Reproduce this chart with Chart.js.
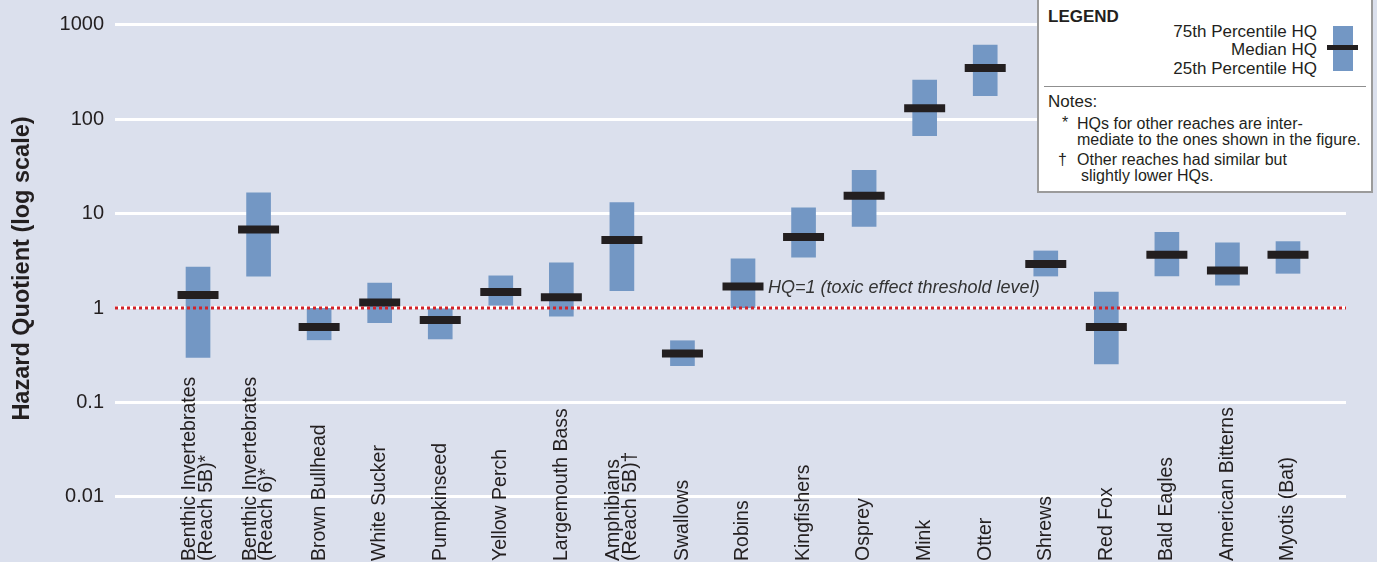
<!DOCTYPE html>
<html>
<head>
<meta charset="utf-8">
<script src="https://cdn.jsdelivr.net/npm/chart.js@4"></script>
<style>
  html,body{margin:0;padding:0;background:#dbe0ed;}
  #wrap{position:relative;width:1377px;height:562px;overflow:hidden;background:#dbe0ed;
        font-family:"Liberation Sans",Arial,sans-serif;color:#231f20;}
  #wrap canvas{position:absolute;left:0;top:0;}
  .abs{position:absolute;line-height:1;white-space:nowrap;}
  .lg{font-size:17px;}
  .nt{font-size:16px;}
</style>
</head>
<body>
<div id="wrap">
  <canvas id="chart" width="1377" height="562"></canvas>
  <div class="abs" style="left:1037px;top:-2px;width:336px;height:195px;background:#fff;border:2px solid #9b9b9b;box-sizing:border-box;"></div>
  <div class="abs lg" style="left:1048px;top:8px;font-weight:bold;">LEGEND</div>
  <div class="abs lg" style="right:60px;top:23px;">75th Percentile HQ</div>
  <div class="abs lg" style="right:60px;top:41px;">Median HQ</div>
  <div class="abs lg" style="right:60px;top:60px;">25th Percentile HQ</div>
  <div class="abs" style="left:1333px;top:26px;width:20px;height:45px;background:#7397c4;"></div>
  <div class="abs" style="left:1327px;top:45px;width:31px;height:5px;background:#231f20;"></div>
  <div class="abs" style="left:1044px;top:86px;width:322px;height:1px;background:#8f8f8f;"></div>
  <div class="abs lg" style="left:1048px;top:93px;">Notes:</div>
  <div class="abs nt" style="left:1062px;top:115px;">*</div>
  <div class="abs nt" style="left:1077px;top:116px;">HQs for other reaches are inter-</div>
  <div class="abs nt" style="left:1077px;top:132px;">mediate to the ones shown in the figure.</div>
  <div class="abs nt" style="left:1058px;top:152px;">†</div>
  <div class="abs nt" style="left:1077px;top:152px;">Other reaches had similar but</div>
  <div class="abs nt" style="left:1081px;top:168px;">slightly lower HQs.</div>
</div>
<script>
// categories (multi-line labels as arrays)
const CATEGORIES = [
  ['Benthic Invertebrates','(Reach 5B)*'],
  ['Benthic Invertebrates','(Reach 6)*'],
  ['Brown Bullhead'],
  ['White Sucker'],
  ['Pumpkinseed'],
  ['Yellow Perch'],
  ['Largemouth Bass'],
  ['Amphibians','(Reach 5B)†'],
  ['Swallows'],
  ['Robins'],
  ['Kingfishers'],
  ['Osprey'],
  ['Mink'],
  ['Otter'],
  ['Shrews'],
  ['Red Fox'],
  ['Bald Eagles'],
  ['American Bitterns'],
  ['Myotis (Bat)']
];
// hazard quotients
const P25    = [0.30, 2.17, 0.46, 0.70, 0.47, 1.07, 0.82, 1.53, 0.245, 1.0, 3.46, 7.3, 67, 177, 2.18, 0.255, 2.18, 1.74, 2.33];
const MEDIAN = [1.37, 6.8, 0.63, 1.14, 0.745, 1.48, 1.30, 5.25, 0.33, 1.69, 5.65, 15.5, 131, 348, 2.93, 0.63, 3.67, 2.49, 3.67];
const P75    = [2.71, 16.6, 0.99, 1.84, 0.98, 2.19, 3.01, 13.1, 0.45, 3.32, 11.5, 28.7, 260, 611, 4.02, 1.47, 6.35, 4.89, 5.05];
const Y_TICKS = [0.01, 0.1, 1, 10, 100, 1000];
const THRESHOLD = 1;
const THRESHOLD_LABEL = 'HQ=1 (toxic effect threshold level)';

const FONT = '"Liberation Sans", Arial, sans-serif';
const INK = '#231f20';

// x labels drawn rotated, reading upward from the bottom edge
const catLabels = {
  id:'catLabels',
  afterDraw(chart){
    const ctx=chart.ctx, xs=chart.scales.x;
    ctx.save();
    ctx.font='19.5px '+FONT;
    ctx.fillStyle=INK;
    ctx.textAlign='left';
    ctx.textBaseline='middle';
    CATEGORIES.forEach((lines,i)=>{
      ctx.save();
      ctx.translate(xs.getPixelForValue(i), chart.height);
      ctx.rotate(-Math.PI/2);
      lines.forEach((t,k)=>ctx.fillText(t,1,(k-(lines.length-1)/2)*16.5));
      ctx.restore();
    });
    ctx.restore();
  }
};

// dotted HQ=1 line + note
const thresholdLine = {
  id:'thresholdLine',
  afterDatasetsDraw(chart){
    const ctx=chart.ctx, a=chart.chartArea, ys=chart.scales.y, xs=chart.scales.x;
    const y1=ys.getPixelForValue(THRESHOLD);
    ctx.save();
    ctx.strokeStyle='#d2232a';
    ctx.lineWidth=3;
    ctx.setLineDash([3,3]);
    ctx.beginPath();
    ctx.moveTo(a.left,y1);
    ctx.lineTo(a.right,y1);
    ctx.stroke();
    ctx.setLineDash([]);
    ctx.font='italic 18px '+FONT;
    ctx.fillStyle='#333';
    ctx.textAlign='left';
    ctx.textBaseline='alphabetic';
    ctx.fillText(THRESHOLD_LABEL, xs.getPixelForValue(9)+25, y1-15);
    ctx.restore();
  }
};

const ctx=document.getElementById('chart').getContext('2d');
new Chart(ctx,{
  type:'bar',
  data:{
    datasets:[
      {
        type:'scatter',
        label:'Median HQ',
        data:MEDIAN.map((v,i)=>({x:i,y:v})),
        pointStyle:'line',
        pointRadius:20.5,
        pointBorderWidth:8,
        borderColor:INK,
        backgroundColor:INK,
        order:0
      },
      {
        label:'25th-75th Percentile HQ',
        data:P25.map((v,i)=>({x:i,y:[v,P75[i]]})),
        backgroundColor:'#7397c4',
        borderWidth:0,
        barThickness:24,
        order:1
      }
    ]
  },
  options:{
    responsive:false,
    animation:false,
    events:[],
    layout:{autoPadding:false,padding:{left:0,right:31,top:0,bottom:25}},
    plugins:{legend:{display:false},tooltip:{enabled:false}},
    scales:{
      x:{
        type:'linear',
        display:false,
        offset:false,
        min:-1.371,
        max:18.958,
        grid:{display:false}
      },
      y:{
        type:'logarithmic',
        min:0.00375,
        max:1831,
        bounds:'data',
        border:{display:false},
        grid:{color:'#ffffff',lineWidth:3,drawTicks:false},
        ticks:{
          padding:11,
          color:INK,
          font:{family:FONT,size:20},
          callback:v=>Y_TICKS.includes(v)?String(v):''
        },
        afterBuildTicks:s=>{s.ticks=Y_TICKS.map(v=>({value:v,major:true}));},
        afterFit:s=>{s.width=115;s.paddingTop=0;s.paddingBottom=0;},
        title:{
          display:true,
          text:'Hazard Quotient (log scale)',
          color:INK,
          font:{family:FONT,size:23.5,weight:'bold'},
          padding:{top:8,bottom:0}
        }
      }
    }
  },
  plugins:[thresholdLine,catLabels]
});
</script>
</body>
</html>
